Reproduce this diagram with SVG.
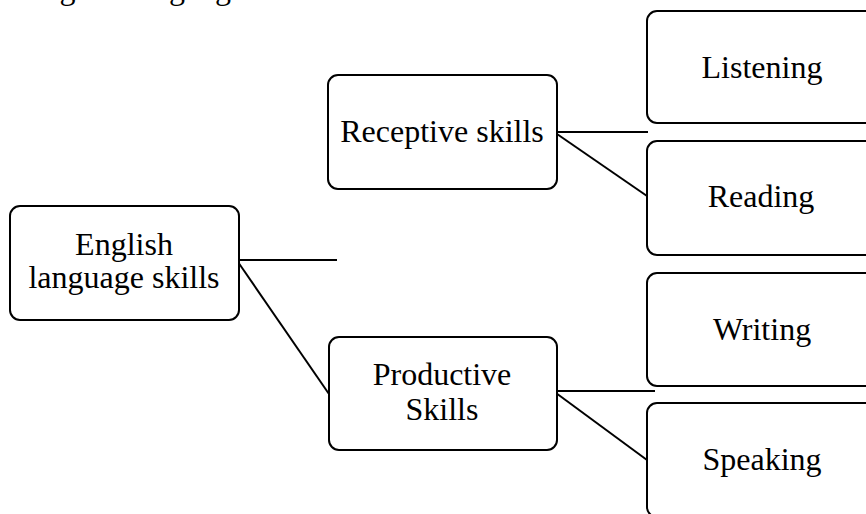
<svg xmlns="http://www.w3.org/2000/svg" width="866" height="514" viewBox="0 0 866 514">
<style>
.box{fill:#fff;stroke:#000;stroke-width:2}
.t{font-family:"Liberation Serif","Times New Roman",serif;font-size:32px;fill:#000;text-anchor:middle}
.h{font-family:"Liberation Serif","Times New Roman",serif;font-size:32px;fill:#000}
.c{stroke:#000;stroke-width:2;fill:none}
</style>
<rect width="866" height="514" fill="#fff"/>
<text class="h" x="24" y="-1">English language skills</text>
<g id="connectors">
<line class="c" x1="238" y1="260" x2="337" y2="260"/>
<line class="c" x1="238" y1="262" x2="329" y2="394"/>
<line class="c" x1="557" y1="132" x2="648" y2="132"/>
<line class="c" x1="557" y1="134" x2="647" y2="196"/>
<line class="c" x1="556" y1="391" x2="655" y2="391"/>
<line class="c" x1="556" y1="393" x2="647" y2="460"/>
</g>
<g id="english">
<rect class="box" x="10" y="206" width="229" height="114" rx="10"/>
<text class="t" x="124" y="255">English</text>
<text class="t" x="124" y="288">language skills</text>
</g>
<g id="receptive">
<rect class="box" x="328" y="75" width="229" height="114" rx="10"/>
<text class="t" x="442" y="142">Receptive skills</text>
</g>
<g id="productive">
<rect class="box" x="329" y="337" width="228" height="113" rx="10"/>
<text class="t" x="442" y="385">Productive</text>
<text class="t" x="442" y="420">Skills</text>
</g>
<g id="listening">
<rect class="box" x="647" y="11" width="229" height="112" rx="10"/>
<text class="t" x="762" y="78">Listening</text>
</g>
<g id="reading">
<rect class="box" x="647" y="141" width="229" height="114" rx="10"/>
<text class="t" x="761" y="207">Reading</text>
</g>
<g id="writing">
<rect class="box" x="647" y="273" width="229" height="113" rx="10"/>
<text class="t" x="762" y="340">Writing</text>
</g>
<g id="speaking">
<rect class="box" x="647" y="403" width="229" height="114" rx="10"/>
<text class="t" x="762" y="470">Speaking</text>
</g>
</svg>
